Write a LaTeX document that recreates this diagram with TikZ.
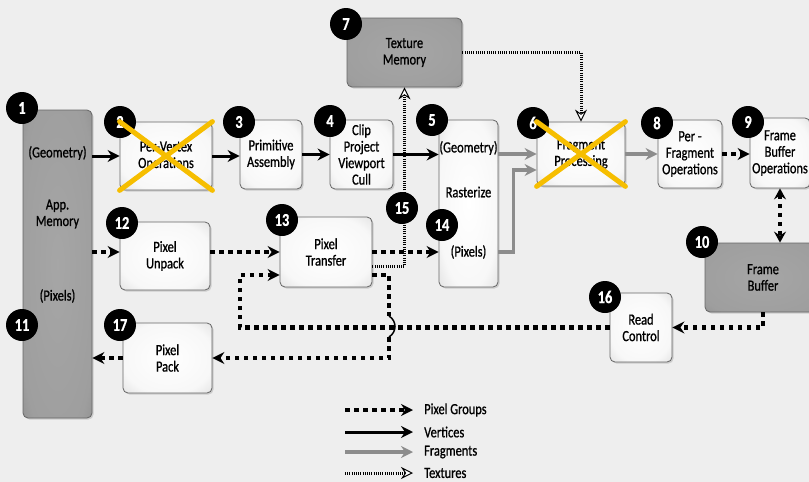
\documentclass[tikz,border=0pt]{standalone}
\usepackage{fontspec}
\setmainfont[FakeStretch=0.8,FakeBold=0.9]{Carlito}
\usetikzlibrary{arrows.meta,shadows,calc}
\definecolor{xyellow}{RGB}{246,190,0}
\definecolor{bgcol}{RGB}{238,238,238}
\pgfdeclareradialshading{lightshade}{\pgfpoint{0bp}{0bp}}{color(0bp)=(white); color(26bp)=(white!97!black); color(50bp)=(black!22); color(72bp)=(black!28)}
\pgfdeclareradialshading{darkshade}{\pgfpoint{0bp}{0bp}}{color(0bp)=(black!35); color(30bp)=(black!38); color(50bp)=(black!52); color(72bp)=(black!58)}
\tikzset{
  lbox/.style={draw=black!60, line width=0.8pt, rounded corners=5pt, shading=lightshade,
    drop shadow={shadow xshift=1.5pt,shadow yshift=-1.5pt,opacity=0.3},
    align=center, font=\fontsize{15.5}{16.5}\selectfont, inner sep=0pt},
  dbox/.style={lbox, shading=darkshade},
  txt/.style={align=center, font=\fontsize{15.5}{16.5}\selectfont, inner sep=0pt},
  num/.style={circle, fill=black, text=white, minimum size=32pt, inner sep=0pt,
    font=\fontsize{18}{18}\selectfont\bfseries},
  vert/.style={line width=3pt, -{Stealth[length=12pt,width=12pt,inset=4pt]}},
  frag/.style={line width=3.5pt, draw=black!45, -{Stealth[length=12pt,width=12pt,inset=4pt]}},
  pixl/.style={line width=4.5pt, dash pattern=on 4.5pt off 4.5pt},
  pix/.style={pixl, -{Stealth[length=12pt,width=12pt,inset=4pt]}},
  pixboth/.style={pixl, {Stealth[length=11pt,width=12pt,inset=4pt]}-{Stealth[length=11pt,width=12pt,inset=4pt]}},
  tex/.style={line width=3pt, dash pattern=on 1pt off 1.2pt,
    -{Stealth[open,length=12pt,width=12pt,inset=4pt,line width=1pt,fill=white]}},
  xmark/.style={line width=5pt, draw=xyellow, line cap=round},
  lab/.style={font=\fontsize{15.5}{16.5}\selectfont, inner sep=0pt, anchor=west}
}
\begin{document}
\begin{tikzpicture}[x=1pt,y=-1pt]
\useasboundingbox (0,0) rectangle (809,482);
\fill[bgcol] (0,0) rectangle (809,482);

% boxes
\node[dbox, minimum width=69pt, minimum height=308pt] (n1) at (57.5,264) {};
\node[lbox, minimum width=92pt, minimum height=68pt] (n2) at (166,156) {Per-Vertex\\Operations};
\node[lbox, minimum width=62pt, minimum height=69pt] (n3) at (271,154.5) {Primitive\\Assembly};
\node[lbox, minimum width=63pt, minimum height=69pt] (n4) at (361.5,154.5) {Clip\\Project\\Viewport\\Cull};
\node[lbox, minimum width=59pt, minimum height=167pt] (n5) at (468.5,203.5) {};
\node[dbox, minimum width=115pt, minimum height=69pt] (n7) at (404.5,52.5) {Texture\\Memory};
\node[lbox, minimum width=88pt, minimum height=64pt] (n6) at (581,154) {Fragment\\Processing};
\node[lbox, minimum width=64pt, minimum height=68pt] (n8) at (690,154) {Per -\\Fragment\\Operations};
\node[lbox, minimum width=60pt, minimum height=70pt] (n9) at (780,153) {Frame\\Buffer\\Operations};
\node[dbox, minimum width=116pt, minimum height=69pt] (n10) at (763,277.5) {Frame\\Buffer};
\node[lbox, minimum width=90pt, minimum height=68pt] (n12) at (165,256) {Pixel\\Unpack};
\node[lbox, minimum width=92pt, minimum height=70pt] (n13) at (326,252) {Pixel\\Transfer};
\node[lbox, minimum width=62pt, minimum height=69pt] (n16) at (641,327.5) {Read\\Control};
\node[lbox, minimum width=89pt, minimum height=70pt] (n17) at (167.5,358) {Pixel\\Pack};

% texts inside big boxes
\node[txt] (t1a) at (57.5,153) {(Geometry)};
\node[txt] (t1b) at (57.5,214) {App.\\Memory};
\node[txt] (t1c) at (57.5,296) {(Pixels)};
\node[txt] (t5a) at (468.5,148) {(Geometry)};
\node[txt] (t5b) at (468.5,192) {Rasterize};
\node[txt] (t5c) at (468.5,252) {(Pixels)};

% vertex connectors
\draw[vert] (n1.east |- n2) -- (n2.west);
\draw[vert] (n2.east) -- (n2.east -| n3.west);
\draw[vert] (n3.east) -- (n3.east -| n4.west);
\draw[vert] (n4.east) -- (n4.east -| n5.west);
% fragment connectors
\draw[frag] (n5.east |- n6) -- (n6.west);
\draw[frag] (n5.east |- n13) -- ++(15,0) |- ([yshift=-16pt]n6.west);
\draw[frag] (n6.east) -- (n6.east -| n8.west);
% pixel connectors
\draw[pix] (n8.east) -- (n8.east -| n9.west);
\draw[pixboth] (n9.south) -- (n9.south |- n10.north);
\draw[pix] (n1.east |- n13) -- (n12.west |- n13);
\draw[pix] (n12.east |- n13) -- (n13.west);
\draw[pix] (n13.east) -- (n13.east -| n5.west);
\draw[pix] (n10.south) |- (n16.east);
\coordinate (loopL) at (240,0);
\draw[pix] (n16.west) -- (n16.west -| loopL) |- ([yshift=-23pt]n13.west);
\coordinate (br1) at (389,316);
\coordinate (br2) at (389,337);
\draw[pixl] ([yshift=-23pt]n13.east) -| (br1);
\draw[line width=1.5pt] (br1) .. controls ($(br1)+(8,5)$) and ($(br2)+(8,-5)$) .. (br2);
\draw[pix] (br2) |- (n17.east);
\draw[pix] (n17.west) -- (n17.west -| n1.east);
% texture connectors
\draw[tex] ([yshift=-14pt]n13.east) -| (n7.south);
\draw[tex] (n7.east) -| (n6.north);

% legend
\node[lab] (l1) at (424,410) {Pixel Groups};
\node[lab] (l2) at (424,432) {Vertices};
\node[lab] (l3) at (424,452) {Fragments};
\node[lab] (l4) at (424,473) {Textures};
\coordinate (s1) at (345,410);
\coordinate (s2) at (345,432);
\coordinate (s3) at (345,452);
\coordinate (s4) at (345,473);
\draw[pix] (s1) -- ([xshift=-11pt]l1.west);
\draw[vert] (s2) -- ([xshift=-11pt]l2.west);
\draw[frag] (s3) -- ([xshift=-11pt]l3.west);
\draw[tex] (s4) -- ([xshift=-11pt]l4.west);

% number badges
\node[num] (c1) at (22,108) {1};
\node[num] (c2) at (120,122) {2};
\node[num] (c3) at (239,122) {3};
\node[num] (c4) at (330,121) {4};
\node[num] (c5) at (432,120) {5};
\node[num] (c6) at (533,123) {6};
\node[num] (c7) at (346,24) {7};
\node[num] (c8) at (657,123) {8};
\node[num] (c9) at (748,122) {9};
\node[num] (c10) at (702,242) {10};
\node[num] (c11) at (22,325) {11};
\node[num] (c12) at (122,223) {12};
\node[num] (c13) at (282,220) {13};
\node[num] (c14) at (442,225) {14};
\node[num] (c15) at (402,208) {15};
\node[num] (c16) at (605,297) {16};
\node[num] (c17) at (120,325) {17};

% crossed-out stages
\draw[xmark] (n2.north west) -- (n2.south east);
\draw[xmark] (n2.north east) -- (n2.south west);
\draw[xmark] (n6.north west) -- (n6.south east);
\draw[xmark] (n6.north east) -- (n6.south west);
\end{tikzpicture}
\end{document}
